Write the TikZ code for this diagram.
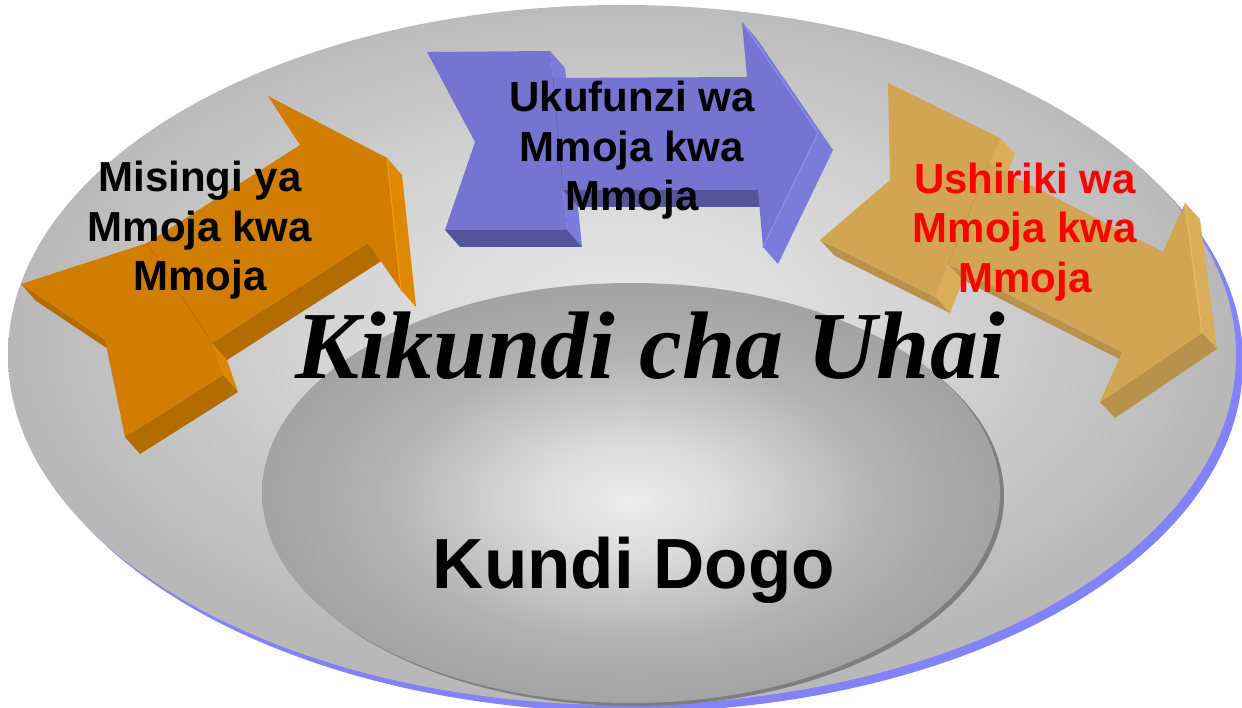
\documentclass[tikz,border=0pt]{standalone}
\usepackage{fontspec}
\usetikzlibrary{calc}
\newfontfamily\lsans{Liberation Sans}
\newfontfamily\lserif{Liberation Serif}
\definecolor{oc0}{HTML}{E8E8E8}
\definecolor{oc1}{HTML}{D3D3D3}
\definecolor{oc2}{HTML}{B8B8B8}
\definecolor{ic0}{HTML}{EDEDED}
\definecolor{ic1}{HTML}{DADADA}
\definecolor{ic2}{HTML}{B2B2B2}
\definecolor{ic3}{HTML}{A3A3A3}
\definecolor{rimblue}{HTML}{8282FA}
\definecolor{innerrim}{HTML}{7E7E7E}
\definecolor{ofront}{HTML}{D17D00}
\definecolor{odark}{HTML}{B36C00}
\definecolor{oside}{HTML}{DE8700}
\definecolor{ohl}{HTML}{F29A14}
\definecolor{bfront}{HTML}{7575D1}
\definecolor{bdark}{HTML}{54549A}
\definecolor{bside}{HTML}{7B7BDC}
\definecolor{bhl}{HTML}{8C8CF2}
\definecolor{gfront}{HTML}{D1A552}
\definecolor{gdark}{HTML}{B8924A}
\definecolor{gside}{HTML}{DAAD58}
\definecolor{ghl}{HTML}{E8BD62}
\pgfdeclareradialshading{outerShade}{\pgfpoint{0bp}{3bp}}{color(0bp)=(oc0); color(13bp)=(oc1); color(25bp)=(oc2); color(50bp)=(oc2)}
\pgfdeclareradialshading{innerShade}{\pgfpoint{0bp}{-1bp}}{color(0bp)=(ic0); color(7bp)=(ic1); color(17bp)=(ic2); color(25bp)=(ic3); color(50bp)=(ic3)}
\newcommand\sface[4]{\fill[#1] (#2) -- (#3) -- ($(#3)+#4$) -- ($(#2)+#4$) -- cycle;}
\begin{document}
\begin{tikzpicture}[x=1pt,y=-1pt,
  lbl/.style={font=\lsans\bfseries\fontsize{42}{49.5}\selectfont, align=center, inner sep=0pt},
  seamline/.style={line width=0.7pt}]
\useasboundingbox (0,0) rectangle (1242,708);
\fill[white] (0,0) rectangle (1242,708);
% outer disc
\fill[rimblue] (629,362) ellipse [x radius=614pt, y radius=350pt];
\shade[shading=outerShade] (622,355) ellipse [x radius=614pt, y radius=350pt];
% inner disc
\fill[innerrim] (635,496) ellipse [x radius=369pt, y radius=210pt];
\shade[shading=innerShade] (631,493) ellipse [x radius=369pt, y radius=210pt];

% ---------- orange arrow ----------
\coordinate (o1) at (21,284);
\coordinate (o2) at (147,243);
\coordinate (o3) at (300,145);
\coordinate (o4) at (268,96);
\coordinate (o5) at (387,158);
\coordinate (o6) at (401,290);
\coordinate (o7) at (368,243);
\coordinate (o8) at (212,343);
\coordinate (o9) at (223,375);
\coordinate (o10) at (125,437);
\coordinate (o11) at (105,340);
\sface{oside}{o5}{o6}{(15,17)}
\sface{oside}{o8}{o9}{(15,17)}
\sface{odark}{o7}{o8}{(15,17)}
\sface{odark}{o9}{o10}{(15,17)}
\sface{odark}{o11}{o1}{(15,17)}
\fill[ofront] (o1) -- (o2) -- (o3) -- (o4) -- (o5) -- (o6) -- (o7) -- (o8) -- (o9) -- (o10) -- (o11) -- cycle;
\draw[ohl, line width=1.2pt] (o5) -- (o6);
\draw[seamline, odark!80!ofront] (o2) -- (o8);

% ---------- blue arrow ----------
\coordinate (b1) at (427,52);
\coordinate (b2) at (550,51);
\coordinate (b3) at (553,78);
\coordinate (b4) at (747,77);
\coordinate (b5) at (742,22);
\coordinate (b6) at (818,133);
\coordinate (b7) at (763,247);
\coordinate (b8) at (758,190);
\coordinate (b9) at (563,190);
\coordinate (b10) at (567,230);
\coordinate (b11) at (445,230);
\coordinate (b12) at (475,142);
\sface{bside}{b2}{b3}{(15,17)}
\sface{bside}{b5}{b6}{(15,17)}
\sface{bside}{b6}{b7}{(15,17)}
\sface{bside}{b9}{b10}{(15,17)}
\sface{bdark}{b8}{b9}{(15,17)}
\sface{bdark}{b10}{b11}{(15,17)}
\fill[bfront] (b1) -- (b2) -- (b3) -- (b4) -- (b5) -- (b6) -- (b7) -- (b8) -- (b9) -- (b10) -- (b11) -- (b12) -- cycle;
\draw[bhl, line width=1.2pt] (b5) -- (b6) -- (b7);
\draw[seamline, bdark!60!bfront] (b3) -- (b9);

% ---------- gold arrow ----------
\coordinate (g1) at (888,83);
\coordinate (g2) at (1000,138);
\coordinate (g3) at (989,164);
\coordinate (g4) at (1163,252);
\coordinate (g5) at (1185,203);
\coordinate (g6) at (1202,333);
\coordinate (g7) at (1100,402);
\coordinate (g8) at (1122,352);
\coordinate (g9) at (948,264);
\coordinate (g10) at (935,297);
\coordinate (g11) at (820,240);
\coordinate (g12) at (890,180);
\sface{gside}{g2}{g3}{(15,16)}
\sface{gside}{g5}{g6}{(15,16)}
\sface{gside}{g9}{g10}{(15,16)}
\sface{gdark}{g6}{g7}{(15,16)}
\sface{gdark}{g8}{g9}{(15,16)}
\sface{gdark}{g10}{g11}{(15,16)}
\fill[gfront] (g1) -- (g2) -- (g3) -- (g4) -- (g5) -- (g6) -- (g7) -- (g8) -- (g9) -- (g10) -- (g11) -- (g12) -- cycle;
\draw[ghl, line width=1.2pt] (g5) -- (g6);
\draw[seamline, gdark!70!gfront] (g3) -- (g9);

% ---------- texts ----------
\node[lbl, text=black] (misingi) at (200,230.3) {Misingi ya\\Mmoja kwa\\Mmoja};
\node[lbl, text=black] (ukufunzi) at (632,150.6) {Ukufunzi wa\\Mmoja kwa\\Mmoja};
\node[lbl, text=red] (ushiriki) at (1025,231.9) {Ushiriki wa\\Mmoja kwa\\Mmoja};
\node[font=\lserif\bfseries\itshape\fontsize{96}{110}\selectfont, inner sep=0pt, anchor=base] (kikundi) at (650,378) {Kikundi cha Uhai};
\node[font=\lsans\bfseries\fontsize{71}{80}\selectfont, inner sep=0pt, anchor=base] (kundi) at (634,588) {Kundi Dogo};
\end{tikzpicture}
\end{document}
